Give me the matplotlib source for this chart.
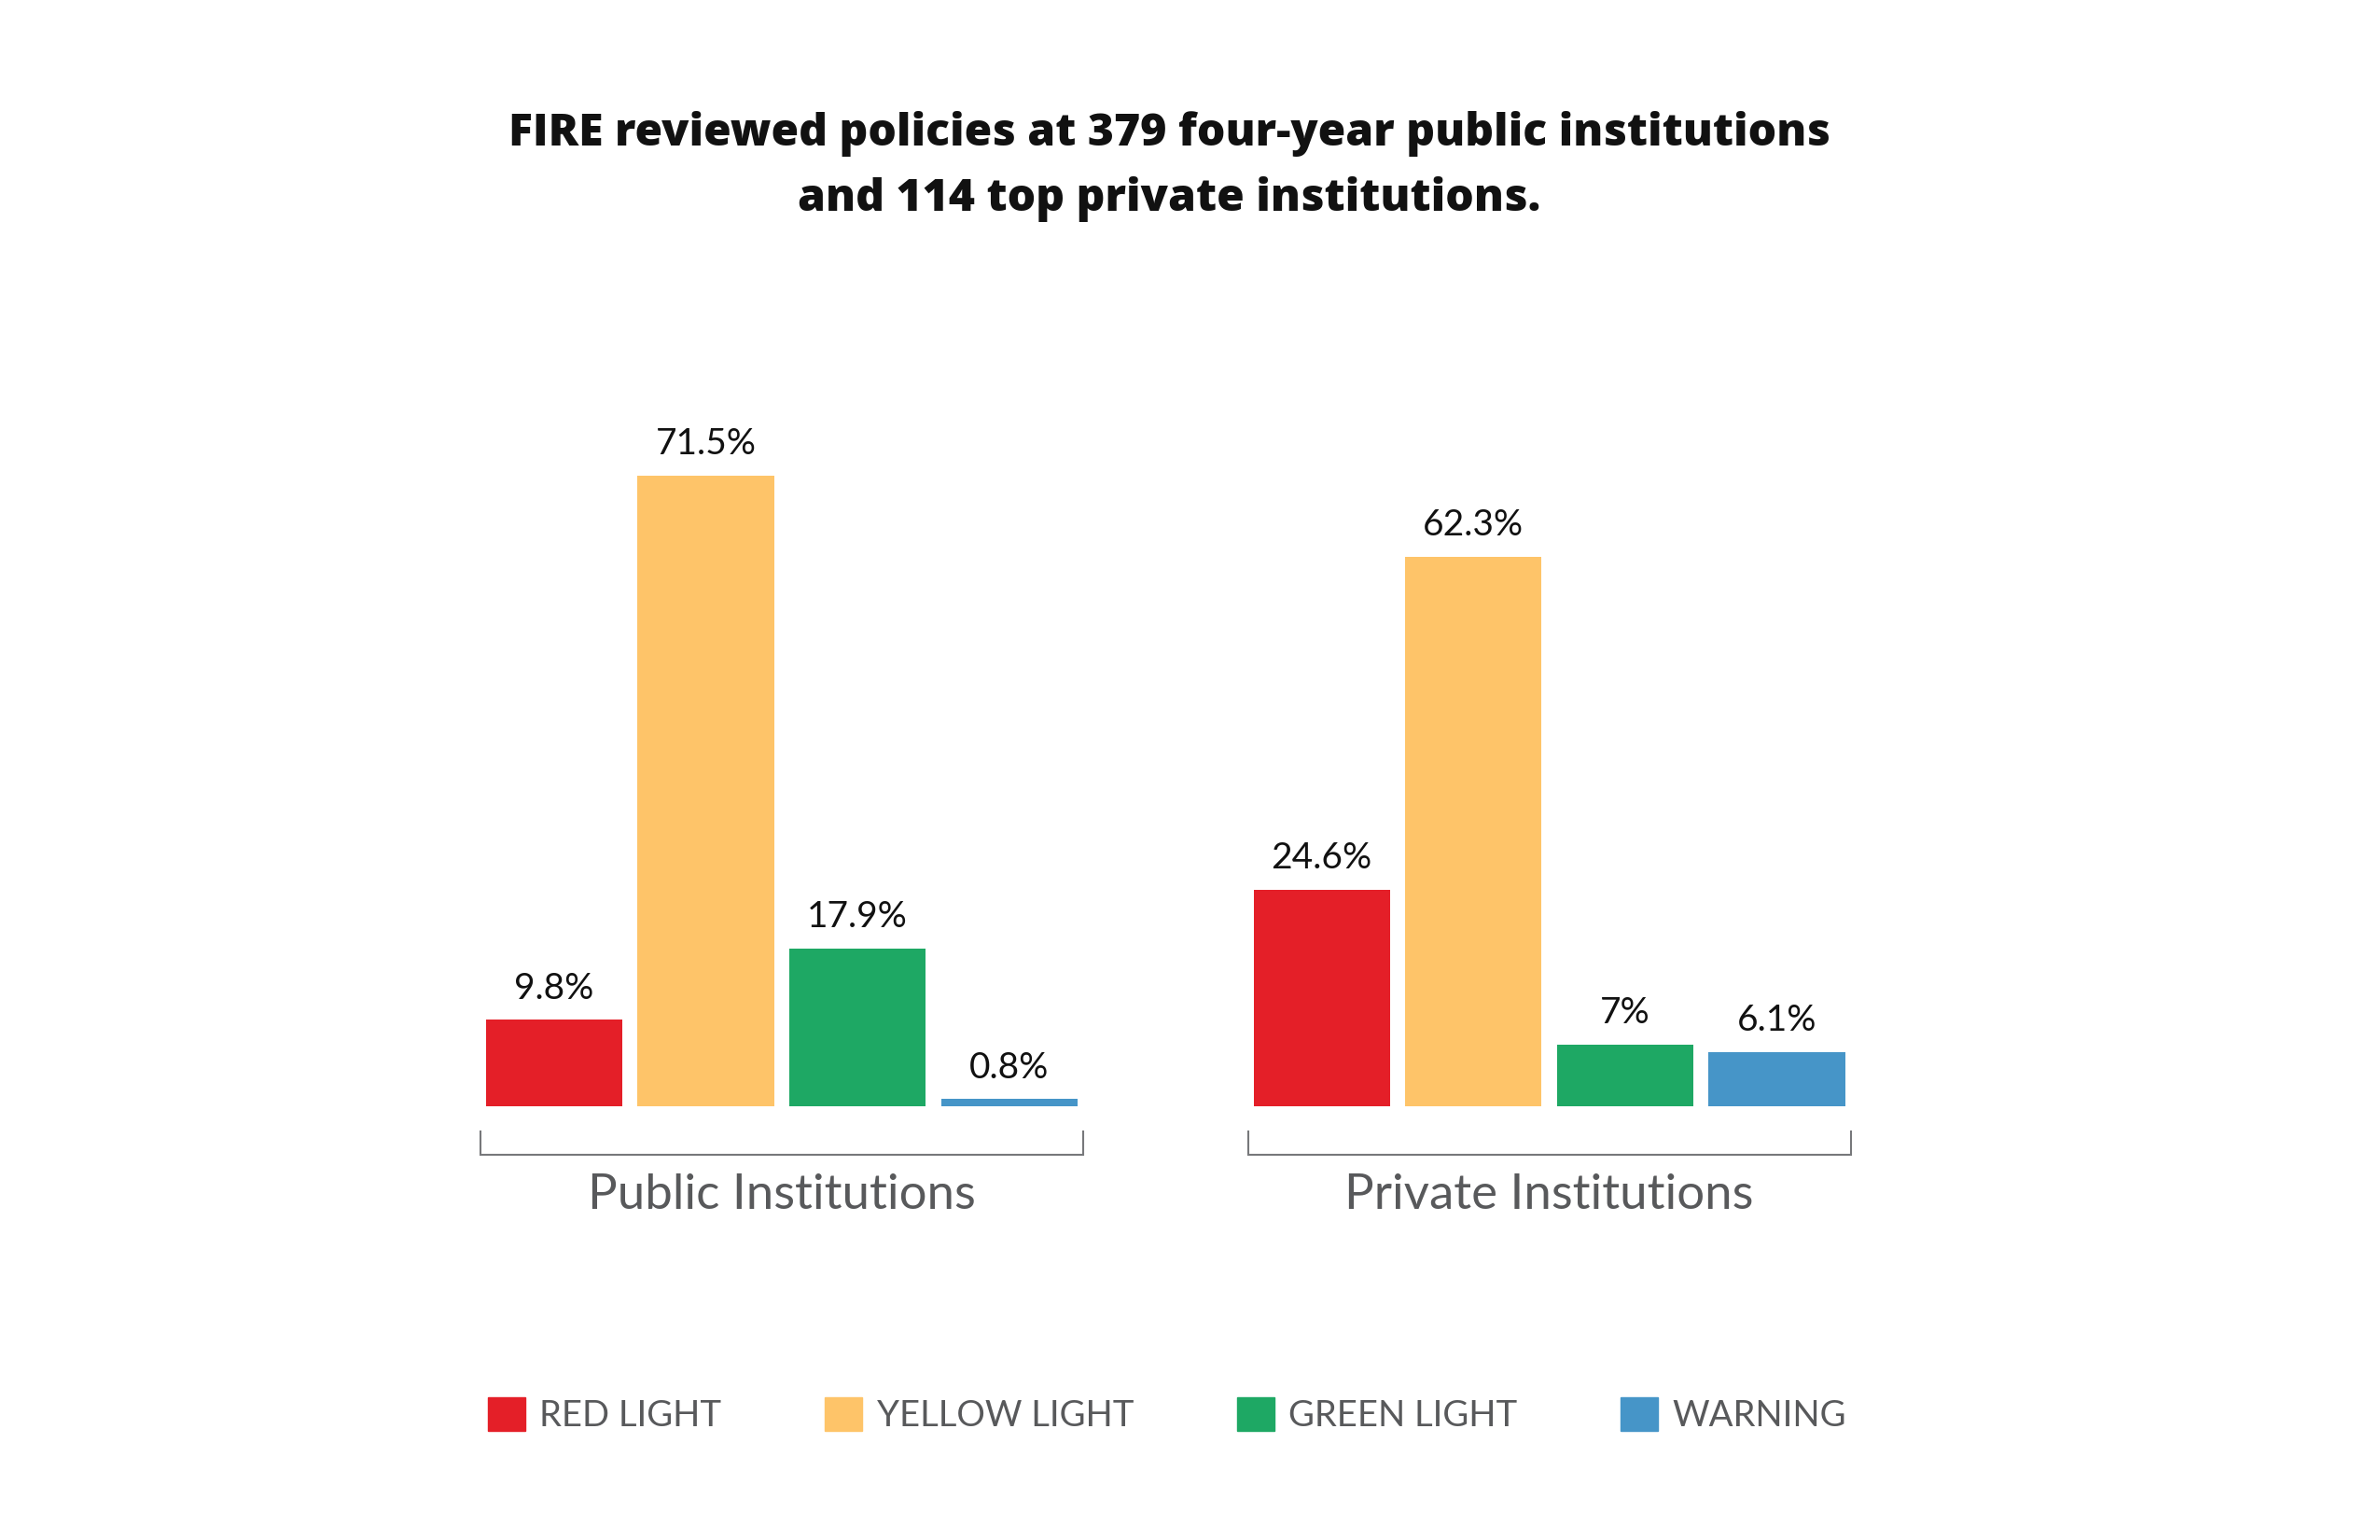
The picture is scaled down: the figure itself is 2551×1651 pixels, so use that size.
import matplotlib
matplotlib.use("Agg")
import matplotlib.pyplot as plt
from matplotlib.patches import Patch
import numpy as np

plt.rcParams['font.family'] = ['Lato', 'DejaVu Sans']

# data
groups = ['Public Institutions', 'Private Institutions']
ratings = ['RED LIGHT', 'YELLOW LIGHT', 'GREEN LIGHT', 'WARNING']
public_vals = [9.8, 71.5, 17.9, 0.8]
private_vals = [24.6, 62.3, 7, 6.1]
colors = ['#e41f28', '#fec469', '#1ea864', '#4695c8']

title = ("FIRE reviewed policies at 379 four-year public institutions\n"
         "and 114 top private institutions.")

fig = plt.figure(figsize=(25.51, 16.51), dpi=100)
ax = fig.add_axes([0, 0, 1, 1])
ax.set_xlim(-3.653, 12.036)
ax.set_ylim(-49.2, 125.5)
ax.axis('off')

group_gap = 5.06
grey = '#58595b'

for g, (name, vals) in enumerate(zip(groups, [public_vals, private_vals])):
    x = np.arange(len(vals)) + g * group_gap
    ax.bar(x, vals, width=0.9, color=colors)
    for xi, v in zip(x, vals):
        ax.annotate(f"{v:g}%", (xi, v), xytext=(0, 16.5),
                    textcoords='offset points', ha='center', va='baseline',
                    fontsize=28, color='#111111')
    # bracket under each group
    l, r = x[0] - 0.487, x[-1] + 0.487
    ax.plot([l, l, r, r], [-2.9, -5.5, -5.5, -2.9], color='#77787b',
            lw=1.5, solid_joinstyle='miter')
    ax.text(x.mean(), -11.65, name, ha='center', va='baseline',
            fontsize=38, color=grey)

fig.text(1253 / 2551, 1 - 226 / 1651, title, ha='center', va='baseline',
         fontsize=34.6, fontweight='heavy', family=['Open Sans', 'DejaVu Sans'],
         color='#111111', linespacing=1.58)

handles = [Patch(color=c) for c in colors]
fig.legend(handles, ratings, loc='center',
           bbox_to_anchor=(1251 / 2551, 1 - 1517 / 1651), ncol=4,
           frameon=False, fontsize=27.5, handlelength=1.05, handleheight=1.05,
           handletextpad=0.4, columnspacing=2.9, labelcolor=grey)

fig.savefig('out.png', dpi=100, facecolor='white')
